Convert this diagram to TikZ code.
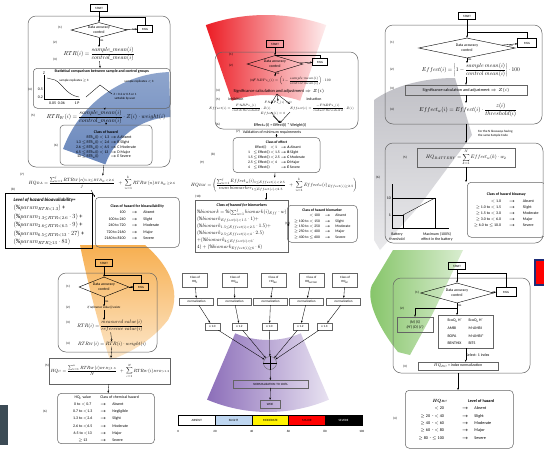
\documentclass[tikz,border=0pt]{standalone}
\usepackage{fix-cm}
\usepackage{graphicx}
\usepackage{amssymb}
\usepackage{amsmath}
\usepackage{fontspec}
\setmainfont{Carlito}
\usetikzlibrary{calc,positioning,shapes.geometric,arrows.meta}

\definecolor{linegray}{RGB}{100,100,100}
\definecolor{bluefan}{RGB}{105,135,188}
\definecolor{redfan}{RGB}{236,28,36}
\definecolor{grayfan}{RGB}{192,192,198}
\definecolor{orangefan}{RGB}{247,175,80}
\definecolor{greenfan}{RGB}{130,195,100}
\definecolor{purplefan}{RGB}{140,110,185}
\definecolor{slightblue}{RGB}{190,214,240}
\definecolor{logoblue}{RGB}{30,45,120}
\definecolor{photo}{RGB}{60,75,85}

\newcommand\fa{\fontsize{3.2}{3.9}\selectfont}
\newcommand\fb{\fontsize{3.9}{4.8}\selectfont}
\newcommand\harr{\ensuremath{\boldsymbol{\rightarrow}}}
% formulas are set at twice the size and halved
\newcommand\hm[2]{\scalebox{0.5}{\fontsize{#1}{#1}\selectfont$\displaystyle #2$}}

\tikzset{
  lbl/.style={font=\fa,inner sep=0pt},
  txt/.style={font=\fb,inner sep=0pt},
  frm/.style={inner sep=0pt},
  startbox/.style={draw=black,line width=0.5pt,font=\fa,minimum width=17pt,minimum height=7pt,inner sep=0.5pt},
  msgbox/.style={draw=black,line width=0.4pt,font=\fa,minimum width=15pt,minimum height=7pt,inner sep=0.5pt},
  dec/.style={diamond,draw=black,line width=0.4pt,font=\fb,aspect=3.5,inner sep=0pt,align=center},
  panel/.style={draw=linegray,line width=0.5pt,rounded corners=8pt},
  tbox/.style={draw=linegray,line width=0.5pt,rounded corners=4pt,inner sep=0pt},
  sbox/.style={draw=linegray,line width=0.4pt,inner sep=1pt},
  arr/.style={-{Stealth[length=2.2pt,width=1.8pt]},line width=0.35pt},
  ln/.style={line width=0.35pt}
}

\begin{document}
\begin{tikzpicture}[x=1pt,y=-1pt]
\useasboundingbox (0,0) rectangle (544,448);
\fill [white] (0,0) rectangle (544,448);

% coloured fans behind the six modules
\shade [top color=bluefan!75,bottom color=bluefan] ($(173,189)+(200:117)$) arc [start angle=200,end angle=268,radius=117] -- ($(173,189)+(268:72)$) arc [start angle=268,end angle=200,radius=72] -- cycle;
\shade [left color=redfan,right color=redfan!8] ($(266,200)+(251:185)$) arc [start angle=251,end angle=289,radius=185] -- ($(266,200)+(289:105)$) arc [start angle=289,end angle=251,radius=105] -- cycle;
\shade [top color=grayfan,bottom color=grayfan!35] (374,100) .. controls (395,85) and (425,78) .. (455,78) -- (472,135) -- (420,205) -- (380,250) -- (374,240) -- cycle;
\shade [top color=orangefan,bottom color=orangefan!30] (80,245) -- (145,245) .. controls (172,268) and (182,295) .. (168,320) .. controls (150,343) and (125,355) .. (110,360) .. controls (100,330) and (88,285) .. cycle;
\shade [left color=greenfan,right color=greenfan!30] (393,250) -- (463,250) -- (433,313) -- (410,355) -- (398,352) .. controls (380,330) and (365,300) .. (372,285) -- cycle;
\shade [left color=purplefan,right color=purplefan!20] ($(268,256)+(67:84)$) arc [start angle=67,end angle=113,radius=84] -- ($(268,256)+(113:156)$) arc [start angle=113,end angle=67,radius=156] -- cycle;

% odd bits cut by the frame
\fill [photo] (0,405) rectangle (8,445);
\node [draw=logoblue,line width=1.5pt,fill=red,minimum width=14pt,minimum height=25pt,anchor=north west] (logoR) at (534,259) {};

%%%%% bioavailability
\node [startbox] (startA) at (99,8) {START};
\draw [panel] (28,16) rectangle (170,167);
\node [dec,minimum width=56pt,minimum height=15pt] (decA) at (99,30) {Data accuracy\\control};
\node [msgbox] (msgA) at (145,29) {MSG};
\coordinate (joinA) at (99,17);
\draw [arr] (startA) -- (decA);
\draw [arr] (decA) -- node [lbl,below,pos=0.7] {no} (msgA);
\draw [ln] (msgA.north) |- (joinA);
\node [frm] (rtrA) at (99,54) {\hm{11.6}{RTR(i)=\dfrac{sample\_mean(i)}{control\_mean(i)}}};
\draw [arr] (decA) -- node [lbl,right,pos=0.35] {yes} (rtrA);
\node [lbl] at (60,28) {(1)};
\node [lbl] at (55,43) {(2)};
\node [lbl] at (55,60) {(3)};

\node [tbox,anchor=north west,minimum width=137pt,minimum height=40pt] (statA) at (33,68) {};
\node [txt,font=\fb\bfseries,below=1.5pt of statA.north] (statAt) {Statistical comparison between sample and control groups};
\draw [arr] (rtrA) -- (statA);
\draw [ln] (44,75) -- (44,99) -- (80,99);
\draw [ln] (47,78) -- (55,80) .. controls (63,84) and (66,95) .. (79,97);
\node [txt] at (44,73) {Z};
\node [txt,anchor=east] at (43,89) {0.5};
\node [txt,anchor=east] at (43,97) {0.2};
\node [txt] at (57,103) {0.05\ \ 0.06};
\node [txt] at (77,103) {1\ P};
\node [lbl] (srA) at (74,81) {sample replicates $\ge$ 3};
\node [lbl] (srB) at (139,82) {sample replicates $<$ 3};
\node [lbl,align=center] (zA) at (125,97) {Z = 0.2 or 0.5 or 1\\settable by user};
\coordinate (forkA) at (100,85);
\draw [ln] (86,97) -- (forkA) -- (112,94);
\node [lbl] at (30,90) {(4)};

\node [frm] (rtrwA) at (106,117) {\hm{11.6}{RTR_W(i)=\dfrac{sample\_mean(i)}{control\_mean(i)}\cdot Z(i)\cdot weight(i)}};
\node [lbl] at (33,116) {(5)};
\draw [arr] (statA) -- (rtrwA);

\node [tbox,minimum width=92pt,minimum height=40pt,font=\fb] (clsA) at (106,145) {%
\begin{tabular}{@{}r@{\,}l@{\;}l@{}}
\multicolumn{3}{c}{\textbf{Class of hazard}}\\
 & RTR\textsubscript{w}(i) $<$ 1.3 & \harr\ A Absent\\
1.3 $\le$ & RTR\textsubscript{w}(i) $<$ 2.6 & \harr\ B Slight\\
2.6 $\le$ & RTR\textsubscript{w}(i) $<$ 6.5 & \harr\ C Moderate\\
6.5 $\le$ & RTR\textsubscript{w}(i) $<$ 13 & \harr\ D Major\\
13 $\le$ & RTR\textsubscript{w}(i) & \harr\ E Severe
\end{tabular}};
\draw [arr] (rtrwA) -- (clsA);
\node [lbl] at (56,146) {(6)};

\node [frm] (hqA) at (102,183) {\hm{9.2}{HQ_{BA}=\dfrac{\sum_{n=1}^{j}RTR_W(n)_{1.3\le RTR_W<2.6}}{j}\;\;+\;\sum_{n=1}^{k}RTR_W(n)_{RTR_W\ge2.6}}};
\node [lbl] at (22,175) {(7)};
\draw [arr] (clsA) -- (hqA);

\node [draw=black,line width=0.8pt,anchor=north west,minimum width=87pt,minimum height=55pt,inner sep=2pt] (levA) at (5,193) {%
\scalebox{0.5}{\fontsize{12.5}{16.8}\selectfont
\begin{tabular}{@{}l@{}}
{\fontsize{9.6}{10}\selectfont\textbf{\textit{Level of hazard bioavailability=}}}\\
$(\%param_{RTR<1.3})$ +\\
$(\%param_{1.3\le RTR<2.6}\cdot 3)$ +\\
$(\%param_{2.6\le RTR<6.5}\cdot 9)$ +\\
$(\%param_{6.5\le RTR<13}\cdot 27)$ +\\
$(\%param_{RTR\ge13}\cdot 81)$
\end{tabular}}};
\node [lbl] at (13,190) {(8)};

\node [tbox,anchor=north west,minimum width=84pt,minimum height=50pt,font=\fontsize{3.9}{6.5}\selectfont] (clsBA) at (95,197) {%
\begin{tabular}{@{}r@{\hspace{6pt}}c@{\hspace{6pt}}l@{}}
\multicolumn{3}{c}{\textbf{Class of hazard for bioavailability}}\\
100 & \harr & Absent\\
100 to 240 & \harr & Slight\\
240 to 720 & \harr & Moderate\\
720 to 2160 & \harr & Major\\
2160 to 8100 & \harr & Severe
\end{tabular}};
\coordinate (hqAbot) at (91,190);
\draw [arr] (hqAbot) -- (clsBA.north west);

%%%%% biomarkers
\node [startbox] (startB) at (275,44) {START};
\draw [panel] (215,52) rectangle (358,129);
\node [dec,minimum width=56pt,minimum height=17pt] (decB) at (275,64) {Data accuracy\\control};
\node [msgbox] (msgB) at (320,62) {MSG};
\coordinate (joinB) at (275,55);
\draw [arr] (startB) -- (decB);
\draw [arr] (decB) -- node [lbl,below,pos=0.7] {no} (msgB);
\draw [ln] (msgB.north) |- (joinB);
\node [lbl] at (231,55) {(1)};
\node [lbl] at (231,66) {(2)};
\node [frm] (bpsB) at (292,81) {\hm{7}{F.\%BPs\_(i)=\left(1-\dfrac{sample\ mean(i)}{control\ mean(i)}\right)\cdot100}};
\node [lbl] at (252,81) {(3)};
\draw [arr] (decB.south) -- node [lbl,right,pos=0.4] {yes} (decB.south |- bpsB.north);
\node [txt,font=\fontsize{4.4}{5}\selectfont] (sigB) at (279,91) {Significance calculation and adjustment $\Rightarrow Z(i)$};
\node [lbl] at (218,91) {(4)};
\node [lbl] at (218,100) {(5)};
\node [txt] at (236,99) {inhibition};
\node [txt] at (314,99) {induction};
\coordinate (forkB) at (277,94);
\node [frm] (zeroB) at (278,103) {\hm{6.4}{F.\%BPs\_(i)=0}};
\node [frm] (inhB) at (240,108) {\hm{6.4}{Effect(i)=\dfrac{F.\%BPs\_(i)}{inhib\ threshold}\cdot Z(i)}};
\node [frm] (indB) at (322,108) {\hm{6.4}{Effect(i)=\dfrac{-F.\%BPs\_(i)}{induct\ threshold}\cdot Z(i)}};
\node [frm] (nullB) at (273,114) {\hm{6.4}{Effect(i)=0}};
\draw [arr] (forkB) -- (inhB.north east);
\draw [arr] (forkB) -- (zeroB.north);
\draw [arr] (forkB) -- (indB.north west);
\node [txt,font=\fontsize{4.2}{5}\selectfont] (effwB) at (280,125) {Effect\textsubscript{w}(i) = Effect(i) * Weight(i)};
\node [lbl] at (218,125) {(6)};
\draw [arr] (inhB.south east) -- (effwB.north);
\draw [arr] (nullB.south) -- (effwB.north);
\draw [arr] (indB.south west) -- (effwB.north);

\node [txt] (valB) at (272,132) {Validation of minimum requirements};
\node [lbl] at (238,131.5) {(7)};
\node [tbox,minimum width=87pt,minimum height=35pt,font=\fontsize{3.7}{5.1}\selectfont] (clsB) at (276.5,155) {%
\begin{tabular}{@{}l@{\,}l@{\,}l@{\;}l@{}}
\multicolumn{4}{c}{\textbf{Class of effect}}\\
 & \ \ Effect(i) & $<$ 1 & \harr\ \textbf{A} Absent\\
1 & $\le$ Effect(i) & $<$ 1.5 & \harr\ \textbf{B} Slight\\
1.5 & $\le$ Effect(i) & $<$ 2.5 & \harr\ \textbf{C} Moderate\\
2.5 & $\le$ Effect(i) & $<$ 4 & \harr\ \textbf{D} Major\\
4 & $\le$ Effect(i) & & \harr\ \textbf{E} Severe
\end{tabular}};
\draw [arr] (clsB.north |- valB.south) -- (clsB.north);
\node [lbl] at (213,155) {(8)};
\node [lbl] at (202,163) {(9)};

\node [frm] (hqB) at (274,185) {\hm{9.2}{HQ_{BM}=\left(\dfrac{\sum_{n=1}^{j}Effect_w(i)_{1\le Effect(i)<2.5}}{num\ biomarker_{1\le Effect(i)<2.5}}\;\;+\;\sum_{n=1}^{k}Effect_w(i)_{Effect(i)\ge2.5}\right)}};
\draw [arr] (clsB) -- (hqB);
\node [lbl] at (198,197) {(10)};

\node [draw=linegray,line width=1pt,anchor=north west,minimum width=77pt,minimum height=50pt,inner sep=1.5pt] (bioB) at (195,200) {%
\scalebox{0.5}{\fontsize{10}{14}\selectfont
\begin{tabular}{@{}l@{}}
\multicolumn{1}{@{}c@{}}{\fontsize{8}{9}\selectfont\textbf{\textit{Class of hazard for biomarkers}}}\\
$\%biomark=\%(\sum_{n=1}^{j}biomark(i)_{Eff}\cdot w)$\\
$(\%biomark_{Effect(i)<1.5}\cdot 1)+$\\
$(\%biomark_{1.5\le Effect(i)<2.5}\cdot 1.5)+$\\
$(\%biomark_{2.5\le Effect(i)<4}\cdot 2.5)$\\
$+(\%biomark_{4\le Effect(i)<6}\cdot$\\
$4)+(\%biomark_{Effect(i)\ge6}\cdot 6)$
\end{tabular}}};
\coordinate (hqBbot) at (266,193);
\draw [arr] (hqBbot) -- (hqBbot |- bioB.north);

\node [tbox,anchor=north west,minimum width=70pt,minimum height=37pt,font=\fontsize{3.7}{5.4}\selectfont] (clsB2) at (287,205) {%
\begin{tabular}{@{}r@{\hspace{5pt}}c@{\hspace{5pt}}l@{}}
\multicolumn{3}{c}{\textbf{Class of hazard biomarker}}\\
$<$ 100 & \harr & Absent\\
$\ge$ 100 to $<$ 150 & \harr & Slight\\
$\ge$ 150 to $<$ 250 & \harr & Moderate\\
$\ge$ 250 to $<$ 400 & \harr & Major\\
$\ge$ 400 to $\le$ 600 & \harr & Severe
\end{tabular}};
\draw [arr] (bioB) -- node [lbl,above] {(11)} (clsB2);

%%%%% bioassays
\node [startbox] (startC) at (467,16) {START};
\draw [panel] (385,25) rectangle (542,124);
\node [dec,minimum width=97pt,minimum height=20pt] (decC) at (467,48) {Data accuracy\\control};
\node [msgbox,minimum width=19pt,minimum height=9pt] (msgC) at (527,43) {MSG};
\coordinate (joinC) at (467,32);
\draw [arr] (startC) -- (decC);
\draw [arr] (decC) -- node [lbl,below,pos=0.6] {no} (msgC);
\draw [ln] (msgC.north) |- (joinC);
\node [lbl] at (392,43) {(1)};
\node [frm] (effC) at (471,70) {\hm{11.2}{Effect(i)=\left|1-\dfrac{sample\ mean(i)}{control\ mean(i)}\right|\cdot100}};
\draw [arr] (decC.south) -- node [lbl,right,pos=0.4] {yes} (decC.south |- effC.north);
\node [lbl] at (392,70) {(2)};
\node [sbox,font=\fontsize{4.2}{5}\selectfont,minimum width=122pt,minimum height=10pt,inner sep=0pt] (sigC) at (466,90) {Significance calculation and adjustment $\Rightarrow Z(i)$};
\node [lbl] at (392,89) {(3)};
\draw [arr] (effC.south -| sigC) -- (sigC);
\node [frm] (effwC) at (468,110) {\hm{11.5}{Effect_w(i)=Effect(i)\cdot\dfrac{z(i)}{threshold(i)}}};
\node [lbl] at (392,110) {(4)};
\draw [arr] (sigC) -- (sigC |- effwC.north);

\coordinate (boxCbot) at (466,124);
\coordinate (boxC2top) at (466,143);
\draw [arr] (boxCbot) -- (boxC2top);
\node [lbl,align=left,anchor=west] (noteC) at (478,134) {For the N bioassays having\\the same Sample Code};
\draw [panel] (385,143) rectangle (543,243);
\node [sbox,minimum width=98pt,minimum height=19pt] (hqC) at (466,157.5) {\hm{10}{HQ_{BATTERY}=\sum_{k=1}^{N}Effect_w(k)\cdot w_2}};
\node [lbl] at (405,158) {(5)};
\node [lbl] at (378,178) {(6)};
\draw [ln] (392,184) -- (392,228) -- (449,228);
\draw [ln] (392,215) -- (403,215) -- (403,228);
\draw [ln] (392,198) -- (435,198) -- (435,228);
\draw [ln] (403,215) -- (435,198);
\node [txt,anchor=east] at (391,198) {10};
\node [txt,anchor=east] at (391,215) {1};
\node [txt,align=center] at (397,237) {Battery\\threshold};
\node [txt,align=center] at (437,237) {Maximum (100\%)\\effect in the battery};
\node [tbox,anchor=north west,minimum width=78pt,minimum height=55pt,font=\fontsize{3.9}{6.1}\selectfont] (clsC) at (467,182) {%
\begin{tabular}{@{}r@{\hspace{8pt}}c@{\hspace{8pt}}l@{}}
\multicolumn{3}{c}{\textbf{Class of hazard bioassay}}\\[1pt]
$<$ 1.0 & \harr & Absent\\
$\ge$ 1.0 to $<$ 1.5 & \harr & Slight\\
$\ge$ 1.5 to $<$ 3.0 & \harr & Moderate\\
$\ge$ 3.0 to $<$ 6.0 & \harr & Major\\
$\ge$ 6.0 to $\le$ 10.0 & \harr & Severe
\end{tabular}};
\draw [arr] (hqC.south) -- (hqC.south |- clsC.north);

%%%%% chemistry
\node [startbox] (startD) at (104,263) {START};
\draw [panel] (58,273) rectangle (157,352);
\node [dec,minimum width=50pt,minimum height=20pt] (decD) at (104,287) {Data accuracy\\control};
\node [msgbox] (msgD) at (141,287) {MSG};
\coordinate (joinD) at (104,275);
\draw [arr] (startD) -- (decD);
\draw [arr] (decD) -- node [lbl,below,pos=0.6] {no} (msgD);
\draw [ln] (msgD.north) |- (joinD);
\node [lbl] at (68,287) {(1)};
\node [lbl] at (68,308) {(2)};
\node [txt,font=\fa\itshape] (ifD) at (104,308) {if reference value(i) exists};
\draw [arr] (decD) -- node [lbl,right] {yes} (ifD);
\node [frm] (rtrD) at (110,326) {\hm{10}{RTR(i)=\dfrac{measured\ value(i)}{reference\ value(i)}}};
\node [lbl] at (68,323) {(3)};
\draw [arr] (ifD.south) -- (ifD.south |- rtrD.north);
\node [frm] (rtrwD) at (112,344) {\hm{9.6}{RTR_W(i)=RTR(i)\cdot weight(i)}};
\node [lbl] at (68,344) {(4)};
\draw [arr] (rtrD) -- (rtrwD);
\node [sbox,minimum width=116pt,minimum height=26pt] (hqD) at (110,371) {\hm{9}{HQ_C=\dfrac{\sum_{i=1}^{n}RTR_W(i)_{RTR\le1.3}}{N}\;\;+\;\sum_{i=1}^{N}RTR_W(i)_{RTR>1.3}}};
\node [lbl] at (47,366) {(5)};
\draw [arr] (rtrwD) -- (hqD);
\node [tbox,minimum width=97pt,minimum height=47pt,font=\fontsize{3.9}{7.2}\selectfont] (clsD) at (106,418.5) {%
\begin{tabular}{@{}c@{\hspace{8pt}}c@{\hspace{6pt}}l@{}}
HQ\textsubscript{C} value & \multicolumn{2}{@{}l@{}}{Class of chemical hazard}\\
0 to $<$ 0.7 & \harr & Absent\\
0.7 to $<$1.3 & \harr & Negligible\\
1.3 to $<$2.6 & \harr & Slight\\
2.6 to $<$6.5 & \harr & Moderate\\
6.5 to $<$13 & \harr & Major\\
$\ge$ 13 & \harr & Severe
\end{tabular}};
\node [lbl] at (45,412) {(6)};
\draw [arr] (hqD) -- (clsD);

%%%%% weight of evidence
\foreach \n/\x/\t in {1/195/C,2/235/BA,3/273.5/BM,4/311.5/BATTERY,5/345/BC}
  \node [sbox,font=\fa,align=center,minimum width=25pt,minimum height=14pt,inner sep=0pt] (cls\n) at (\x,280) {Class of\\HQ\textsubscript{\t}};
\foreach \n/\x in {1/196.5,2/234.5,3/270.5,4/306.5,5/343.5}
  \node [sbox,font=\fa,minimum width=34pt,minimum height=7pt,inner sep=0pt] (nrm\n) at (\x,301.5) {normalization};
\foreach \n/\x/\w in {1/212.5/1.0,2/239.5/1.2,3/269.5/1.0,4/300.5/1.2,5/324.5/1.3}
  \node [sbox,font=\fa,minimum width=15pt,minimum height=7pt,inner sep=0pt] (wgt\n) at (\x,326.5) {x \w};
\node [circle,draw=linegray,line width=0.4pt,minimum size=13pt,inner sep=0pt] (sumE) at (270,363) {};
\draw [ln] (sumE.north) -- (sumE.south) (sumE.west) -- (sumE.east);
\foreach \n in {1,...,5} {
  \draw [arr] (cls\n) -- (nrm\n);
  \draw [arr] (nrm\n) -- (wgt\n);
  \draw [arr] (wgt\n) -- (sumE);
}
\node [sbox,font=\fa,minimum width=75pt,minimum height=7.5pt,inner sep=0pt] (normE) at (270.5,384) {NORMALIZATION TO 100\%};
\node [sbox,font=\fa,minimum width=20pt,minimum height=8pt,inner sep=0pt] (woeE) at (270,404) {WOE};
\draw [arr] (sumE) -- (normE);
\draw [arr] (normE) -- (woeE);
\foreach \k/\col/\lab/\tcol in {0/white/ABSENT/black,1/slightblue/SLIGHT/black,2/yellow/MODERATE/black,3/red/MAJOR/black,4/black/SEVERE/white}
  \node [draw=black,line width=0.3pt,fill=\col,text=\tcol,font=\fa,minimum width=36.7pt,minimum height=10pt,inner sep=0pt,anchor=west] (bar\k) at ({178.3+36.7*\k},420) {\lab};
\foreach \v [count=\k from 0] in {0,20,40,60,80,100}
  \node [lbl] (tick\k) at ({178.3+36.7*\k},431) {\v};

%%%%% benthic community
\node [startbox] (startF) at (457,266) {START};
\draw [panel] (393,278) rectangle (530,373);
\node [dec,minimum width=73pt,minimum height=20pt] (decF) at (457,293) {Data accuracy\\control};
\node [msgbox,minimum width=20pt,minimum height=9pt] (msgF) at (506,292) {MSG};
\coordinate (joinF) at (457,273);
\draw [arr] (startF) -- (decF);
\draw [arr] (decF) -- node [lbl,below,pos=0.6] {no} (msgF);
\draw [ln] (msgF.north) |- (joinF);
\node [lbl] at (417,293) {(1)};
\node [lbl] at (402,309) {(2)};
\coordinate (forkF) at (457,308);
\node [sbox,font=\fb\itshape,align=center,minimum width=36pt,minimum height=15pt,inner sep=0pt] (nsF) at (415,324.5) {(N) (S)\\(H') (D) (J')};
\node [sbox,anchor=north west,minimum width=55pt,minimum height=33pt,inner sep=0pt,font=\fontsize{3.9}{7.6}\selectfont] (idxF) at (438,315) {%
\begin{tabular}{@{}l@{\hspace{7pt}}l@{}}
EcoQ\textsubscript{s} H' & EcoQ\textsubscript{s} H'\\
AMBI & M-AMBI\\
BOPA & M-AMBI*\\
BENTHIX & BITS
\end{tabular}};
\draw [ln] (decF) -- node [lbl,right,pos=0.6] {yes} (forkF);
\draw [arr] (forkF) -| (nsF.north);
\draw [arr] (forkF) -- (forkF |- idxF.north);
\node [sbox,font=\fb,minimum width=80pt,minimum height=8pt,inner sep=0pt] (hqF) at (458,366) {\hm{8}{HQ_{BC}} = \textit{index normalization}};
\node [lbl] at (405,367) {(3)};
\draw [arr] (idxF.south) -- (idxF.south |- hqF.north);
\node [txt,anchor=west] (selF) at (466,355) {Select: 1 index};
\coordinate (boxFbot) at (458,373);
\node [tbox,anchor=north west,minimum width=108pt,minimum height=58pt,font=\fontsize{4.2}{7.4}\selectfont] (clsF) at (405,390) {%
\begin{tabular}{@{}r@{\hspace{18pt}}c@{\hspace{6pt}}l@{}}
\multicolumn{1}{c}{\hm{9}{\boldsymbol{HQ_{BC}}}\hspace{8pt}} & \multicolumn{2}{l}{\textbf{Level of hazard}}\\
$<$ 20 & \harr & Absent\\
$\ge$ 20\ \ - $<$ 40 & \harr & Slight\\
$\ge$ 40\ \ - $<$ 60 & \harr & Moderate\\
$\ge$ 60\ \ - $<$ 80 & \harr & Major\\
$\ge$ 80\ \ - $\le$ 100 & \harr & Severe
\end{tabular}};
\node [lbl] at (395,419) {(4)};
\draw [arr] (boxFbot) -- (boxFbot |- clsF.north);

\end{tikzpicture}
\end{document}
